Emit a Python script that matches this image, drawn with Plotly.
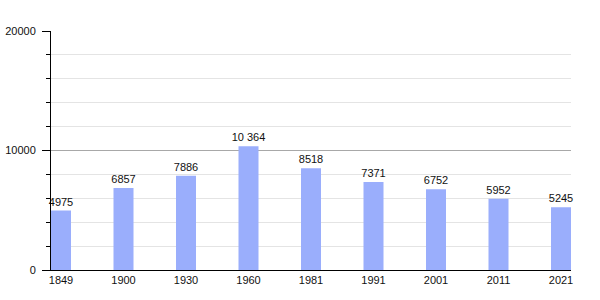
import plotly.graph_objects as go

years = ["1849", "1900", "1930", "1960", "1981", "1991", "2001", "2011", "2021"]
population = [4975, 6857, 7886, 10364, 8518, 7371, 6752, 5952, 5245]
labels = ["4975", "6857", "7886", "10 364", "8518", "7371", "6752", "5952", "5245"]

fig = go.Figure(go.Bar(
    x=years, y=population, text=labels, textposition="outside",
    constraintext="none",
    textfont=dict(size=11, color="#111"), cliponaxis=False,
    marker=dict(color="#9aaefc", line=dict(width=0)), width=0.32,
))

fig.update_layout(
    width=600, height=300,
    margin=dict(l=51, r=29, t=31, b=30, autoexpand=False),
    plot_bgcolor="white", paper_bgcolor="white",
    font=dict(family="Liberation Sans, Arial, sans-serif", size=11, color="#111"),
    showlegend=False,
    xaxis=dict(type="category", range=[-0.16, 8.16], showline=True, linecolor="black",
               linewidth=1, ticks="", showgrid=False, tickfont=dict(size=11),
               automargin=False),
    yaxis=dict(range=[0, 20000], dtick=10000, tick0=0, showline=True, linecolor="black",
               linewidth=1, ticks="outside", ticklen=8, tickcolor="black",
               showgrid=True, gridcolor="#a8a8a8", gridwidth=1, zeroline=False,
               tickformat="d", tickfont=dict(size=11), ticklabelstandoff=4,
               automargin=False,
               minor=dict(dtick=2000, ticks="outside", ticklen=4, tickcolor="black",
                          showgrid=True, gridcolor="#e4e4e4", gridwidth=1)),
)

fig.write_html("out.html")
